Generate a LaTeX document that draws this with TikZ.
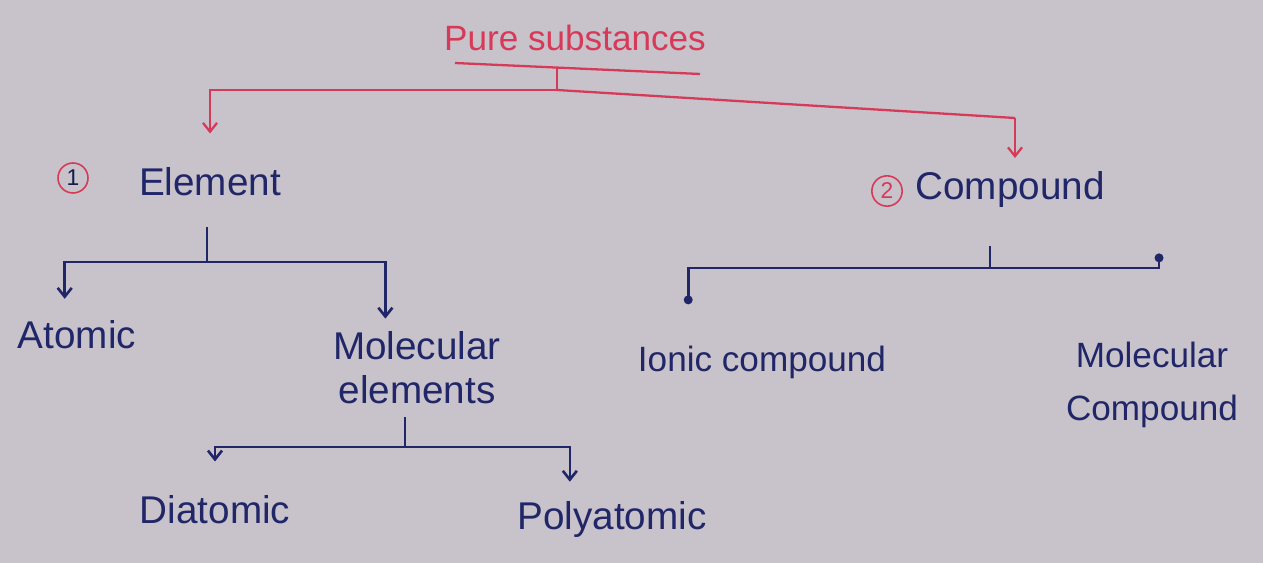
\documentclass[tikz,border=0pt]{standalone}
\usepackage{fontspec}
\setmainfont{Liberation Sans}
\usepackage{tikz}
\usetikzlibrary{arrows.meta, positioning, calc}
\definecolor{paper}{RGB}{200,194,202}
\definecolor{inkred}{RGB}{214,58,88}
\definecolor{inkblue}{RGB}{32,38,104}
\begin{document}
\begin{tikzpicture}[x=0.02cm, y=-0.02cm,
    redtxt/.style={text=inkred, font=\fontsize{20}{24}\selectfont},
    bluetxt/.style={text=inkblue, font=\fontsize{22}{25}\selectfont, align=center},
    numbox/.style={draw=inkred, circle, line width=0.9pt, inner sep=2pt, font=\fontsize{13}{14}\selectfont},
    redline/.style={draw=inkred, line width=1.3pt},
    blueline/.style={draw=inkblue, line width=1.5pt},
    redarr/.style={redline, -{Straight Barb[length=5pt, width=8pt]}},
    bluearr/.style={blueline, -{Straight Barb[length=5pt, width=8pt]}},
    dotarr/.style={blueline, -{Circle[length=5pt]}}]
% paper
\fill[paper] (0,0) rectangle (1263,563);
% title
\node[redtxt] (pure) at (575,38) {Pure substances};
\draw[redline] (455,63) -- (700,74);
% first level
\node[numbox, text=inkblue!70!black] (n1) at (73,178) {1};
\node[bluetxt] (elem) at (210,182) {Element};
\node[numbox, text=inkred] (n2) at (887,191) {2};
\node[bluetxt] (comp) at (1010,190) {Compound};
% second level
\node[bluetxt] (atomic) at (77,335) {Atomic};
\node[bluetxt] (molel) at (417,368) {Molecular\\elements};
\node[bluetxt, font=\fontsize{20}{24}\selectfont] (ionic) at (762,362) {Ionic compound};
\node[bluetxt, font=\fontsize{20}{30}\selectfont] (molco) at (1152,385) {Molecular\\Compound};
% third level
\node[bluetxt] (diat) at (215,510) {Diatomic};
\node[bluetxt] (poly) at (612,520) {Polyatomic};
% red split
\coordinate (pU) at (557,67);
\coordinate (pJ) at (557,90);
\coordinate (pR) at (1015,118);
\draw[redline] (pU) -- (pJ);
\draw[redarr, shorten >=16pt] (pJ) -| (elem.north);
\draw[redline] (pJ) -- (pR);
\draw[redarr] (pR) -- ++(0,40);
% element split
\coordinate (eJ) at (207,262);
\draw[blueline, shorten <=14pt] (eJ |- elem.south) -- (eJ);
\draw[bluearr, shorten >=9pt] (eJ) -| ([xshift=-7pt]atomic.north);
\draw[bluearr, shorten >=4pt] (eJ) -| ([xshift=-18pt]molel.north);
% molecular elements split
\coordinate (mJ) at (405,447);
\draw[blueline, shorten <=4pt] (mJ |- molel.south) -- (mJ);
\draw[bluearr, shorten >=16pt] (mJ) -| (diat.north);
\draw[bluearr, shorten >=8pt] (mJ) -| ([xshift=-24pt]poly.north);
% compound split
\coordinate (cJ) at (990,268);
\draw[blueline, shorten <=18pt] (cJ |- comp.south) -- (cJ);
\draw[dotarr, shorten >=20pt] (cJ) -| ([xshift=-42pt]ionic.north);
\draw[dotarr, shorten >=42pt] (cJ) -| ([xshift=4pt]molco.north);
\end{tikzpicture}
\end{document}
